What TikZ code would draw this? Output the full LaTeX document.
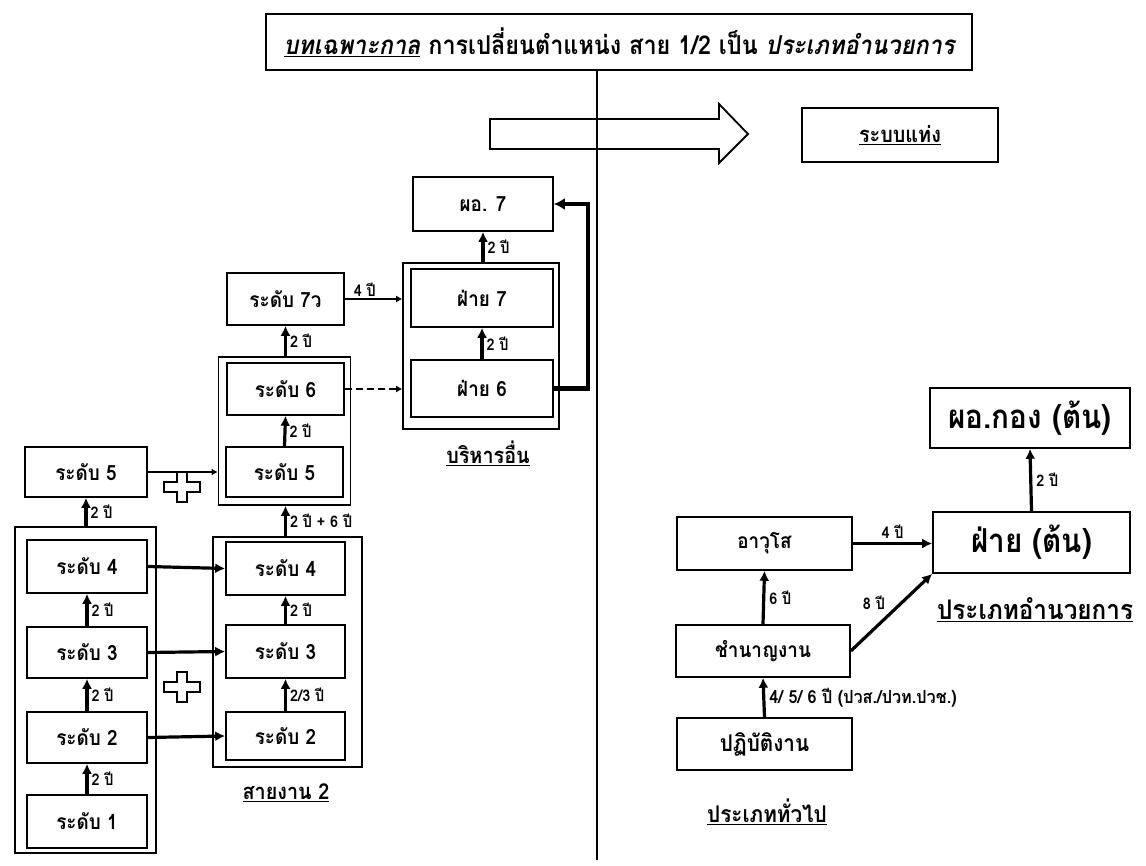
\documentclass[tikz,border=0pt]{standalone}
\usepackage{fontspec}
\newfontfamily\thaif[Script=Thai,FakeStretch=0.9]{Loma}
\usetikzlibrary{arrows.meta}
\begin{document}
\begin{tikzpicture}[x=1pt,y=-1pt,
 box/.style={draw,line width=1.6pt,fill=white,font=\thaif\bfseries\fontsize{21}{24}\selectfont,inner sep=0pt},
 grp/.style={draw,line width=1.6pt,inner sep=0pt},
 arr/.style={line width=3.2pt,-{Latex[length=10pt,width=10pt]}},
 sarr/.style={line width=2.6pt,-{Latex[length=6pt,width=7pt]}},
 lbl/.style={font=\thaif\bfseries\fontsize{16}{18}\selectfont,inner sep=1pt},
 ulab/.style={font=\thaif\bfseries\fontsize{22}{26}\selectfont,inner sep=0pt},
 plussign/.pic={\draw[line width=1.6pt] (-5,-15) -- (5,-15) -- (5,-5) -- (18,-5) -- (18,5) -- (5,5) -- (5,15) -- (-5,15) -- (-5,5) -- (-18,5) -- (-18,-5) -- (-5,-5) -- cycle;}
]
\useasboundingbox (0,0) rectangle (1146,866);
\fill[white] (0,0) rectangle (1146,866);

% title and divider
\node[box,font=\thaif\bfseries\fontsize{26}{30}\selectfont,minimum width=706,minimum height=56] (title) at (619,42)
 {\underline{\itshape บทเฉพาะกาล} การเปลี่ยนตำแหน่ง สาย 1/2 เป็น {\itshape ประเภทอำนวยการ}};
\draw[line width=1.8pt] (490,119) -- (719,119) -- (719,104) -- (748,134) -- (719,163) -- (719,149) -- (490,149) -- cycle;
\coordinate (vbot) at (597,860);
\draw[line width=1.8pt] (title.south -| vbot) -- (vbot);
\node[box,font=\thaif\bfseries\fontsize{22}{26}\selectfont,minimum width=196,minimum height=54] (rb) at (900,135) {\underline{ระบบแท่ง}};

% groups
\node[grp,minimum width=141,minimum height=326] (g1) at (85.5,690) {};
\node[grp,minimum width=149,minimum height=230] (g2) at (287.5,652) {};
\node[grp,minimum width=132,minimum height=148] (g3) at (284.5,431) {};
\node[grp,minimum width=156,minimum height=166] (g4) at (481,346) {};

% left column
\node[box,minimum width=120,minimum height=53] (l1) at (87,821.5) {ระดับ 1};
\node[box,minimum width=120,minimum height=51] (l2) at (87,737.5) {ระดับ 2};
\node[box,minimum width=120,minimum height=51] (l3) at (87,652.5) {ระดับ 3};
\node[box,minimum width=120,minimum height=53] (l4) at (87,566.5) {ระดับ 4};
\node[box,minimum width=122,minimum height=50] (l5) at (86,472) {ระดับ 5};

% right column
\node[box,minimum width=119,minimum height=48] (r2) at (285.5,736) {ระดับ 2};
\node[box,minimum width=119,minimum height=53] (r3) at (285.5,651.5) {ระดับ 3};
\node[box,minimum width=119,minimum height=53] (r4) at (285.5,568.5) {ระดับ 4};
\node[box,minimum width=117,minimum height=50] (r5) at (284.5,472) {ระดับ 5};
\node[box,minimum width=117,minimum height=52] (r6) at (285.5,389) {ระดับ 6};
\node[box,minimum width=117,minimum height=52] (r7) at (285.5,299) {ระดับ 7ว};

% management
\node[box,minimum width=142,minimum height=58] (f7) at (482,298) {ฝ่าย 7};
\node[box,minimum width=142,minimum height=57] (f6) at (482,388.5) {ฝ่าย 6};
\node[box,minimum width=140,minimum height=54] (p7) at (483,204) {ผอ. 7};

% right side
\node[box,font=\thaif\bfseries\fontsize{33}{36}\selectfont,minimum width=200,minimum height=60] (hp) at (1030,418) {ผอ.กอง (ต้น)};
\node[box,font=\thaif\bfseries\fontsize{33}{36}\selectfont,minimum width=197,minimum height=61] (ft) at (1031.5,542.5) {ฝ่าย (ต้น)};
\node[box,minimum width=175,minimum height=53] (aw) at (764.5,543.5) {อาวุโส};
\node[box,minimum width=174,minimum height=52] (cn) at (763,651) {ชำนาญงาน};
\node[box,font=\thaif\bfseries\fontsize{23}{26}\selectfont,minimum width=175,minimum height=52] (pt) at (764.5,744) {ปฏิบัติงาน};

% vertical arrows, left column
\draw[arr] (l1.north) -- (l2.south) node[lbl,midway,anchor=west,xshift=2pt] {2 ปี};
\draw[arr] (l2.north) -- (l3.south) node[lbl,midway,anchor=west,xshift=2pt] {2 ปี};
\draw[arr] (l3.north) -- (l4.south) node[lbl,midway,anchor=west,xshift=2pt] {2 ปี};
\draw[arr] (l5.south |- g1.north) -- (l5.south) node[lbl,midway,anchor=west,xshift=2pt] {2 ปี};

% vertical arrows, right column
\draw[arr] (r2.north) -- (r3.south) node[lbl,midway,anchor=west,xshift=2pt] {2/3 ปี};
\draw[arr] (r3.north) -- (r4.south) node[lbl,midway,anchor=west,xshift=2pt] {2 ปี};
\draw[arr] (r4.north |- g2.north) -- (r4.north |- g3.south) node[lbl,midway,anchor=west,xshift=2pt] {2 ปี + 6 ปี};
\draw[arr] (r5.north) -- (r6.south) node[lbl,midway,anchor=west,xshift=2pt] {2 ปี};
\draw[arr] (r7.south |- g3.north) -- (r7.south) node[lbl,midway,anchor=west,xshift=2pt] {2 ปี};

% management arrows
\draw[arr] (f6.north) -- (f7.south) node[lbl,midway,anchor=west,xshift=2pt] {2 ปี};
\draw[arr] (p7.south |- g4.north) -- (p7.south) node[lbl,midway,anchor=west,xshift=2pt] {2 ปี};
\draw[line width=4.5pt,-{Latex[length=11pt,width=12pt]}] (f6.east) -- ++(34,0) |- (p7.east);

% horizontal connectors
\draw[arr] (l4.east) -- (r4.west);
\draw[arr] (l3.east) -- (r3.west);
\draw[arr] (l2.east) -- (r2.west);
\draw[sarr] (l5.east) -- (g3.west |- l5.east);
\draw[sarr] (r7.east) -- (g4.west |- r7.east) node[lbl,pos=0.35,anchor=south] {4 ปี};
\draw[sarr,dashed,dash pattern=on 7pt off 4pt] (r6.east) -- (g4.west |- r6.east);

\pic at (182,487) {plussign};
\pic at (182,687) {plussign};

% right side arrows
\draw[arr] (ft.north) -- (hp.south) node[lbl,midway,anchor=west,xshift=3pt] {2 ปี};
\draw[arr] (aw.east) -- (ft.west |- aw.east) node[lbl,midway,anchor=south,yshift=2pt] {4 ปี};
\draw[arr] (cn.north) -- (aw.south) node[lbl,midway,anchor=west,xshift=3pt] {6 ปี};
\draw[arr] (cn.east) -- (ft.south west) node[lbl,midway,anchor=south east,xshift=-4pt] {8 ปี};
\draw[arr] (pt.north) -- (cn.south) node[lbl,font=\thaif\bfseries\fontsize{18}{20}\selectfont,midway,anchor=west,xshift=3pt] {4/ 5/ 6 ปี (ปวส./ปวท.ปวช.)};

% captions
\node[ulab] (capb) at (488,453) {\underline{บริหารอื่น}};
\node[ulab] (caps) at (286,793) {\underline{สายงาน 2}};
\node[ulab,font=\thaif\bfseries\fontsize{27}{30}\selectfont] (capa) at (1035,610) {\underline{ประเภทอำนวยการ}};
\node[ulab,font=\thaif\bfseries\fontsize{23}{26}\selectfont] (capg) at (767,812) {\underline{ประเภททั่วไป}};
\end{tikzpicture}
\end{document}
